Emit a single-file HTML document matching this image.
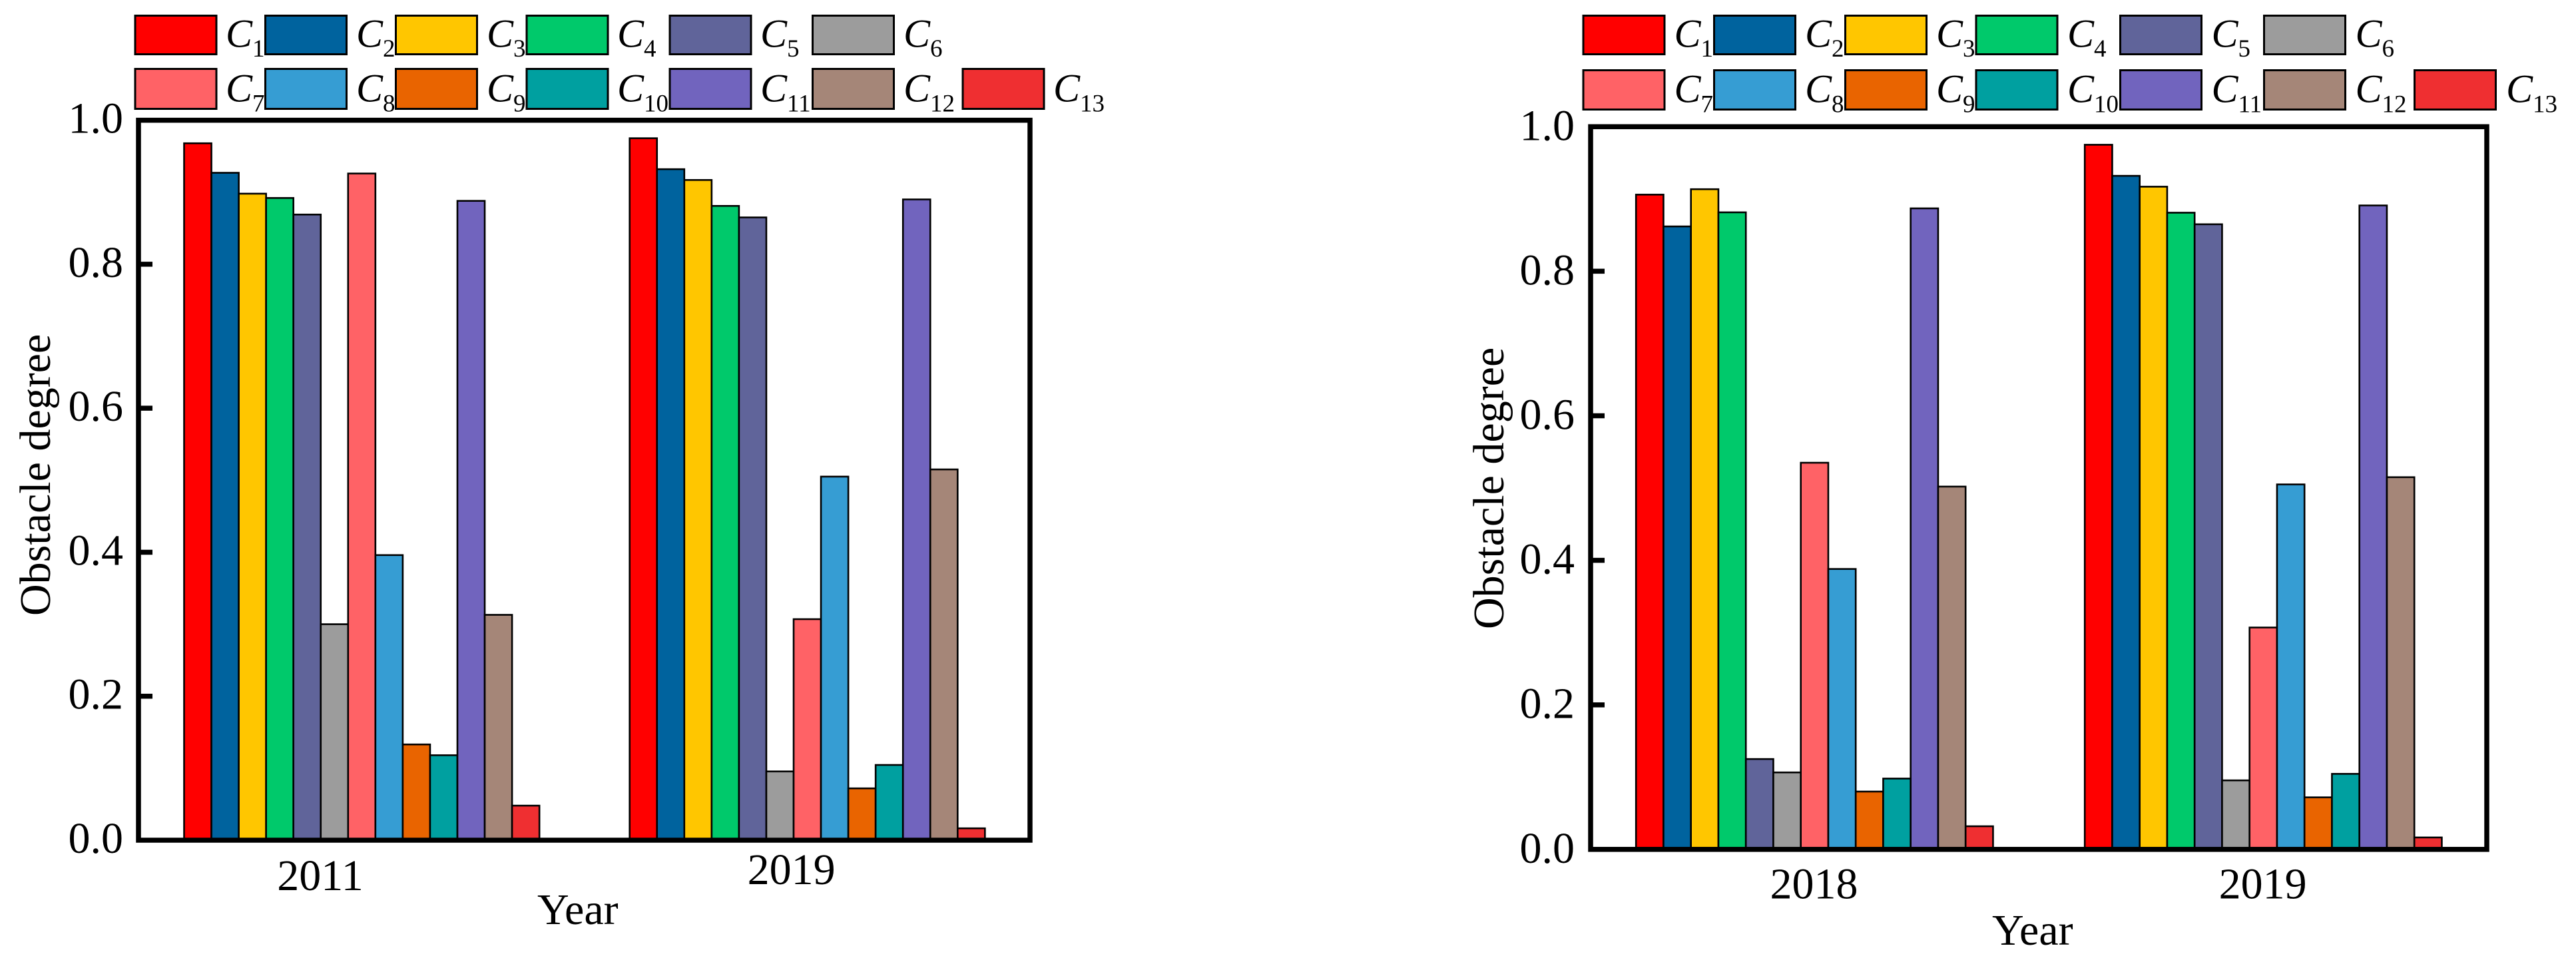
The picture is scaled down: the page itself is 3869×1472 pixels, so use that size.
<!DOCTYPE html>
<html lang="en">
<head>
<meta charset="utf-8">
<title>Obstacle degree by year</title>
<style>
html,body{margin:0;padding:0;background:#fff;}
svg{display:block;}
text{font-family:"Liberation Serif",serif;fill:#000;}
.sw{stroke:#000;stroke-width:3;}
.lc{font-size:60px;font-style:italic;}
.ls{font-size:37px;font-style:normal;}
.t{font-size:66px;}
</style>
</head>
<body>
<svg id="chart" xmlns="http://www.w3.org/2000/svg" width="3869" height="1472" viewBox="0 0 3869 1472">
<rect x="0" y="0" width="3869" height="1472" fill="#ffffff"/>

<g id="panel-left">
<g>
<g><rect class="sw" x="203" y="23.5" width="122" height="58" fill="#ff0000"/><text class="lc" x="339" y="70.5">C<tspan class="ls" dy="14.5">1</tspan></text></g>
<g><rect class="sw" x="398.5" y="23.5" width="122" height="58" fill="#00639e"/><text class="lc" x="535" y="70.5">C<tspan class="ls" dy="14.5">2</tspan></text></g>
<g><rect class="sw" x="594.5" y="23.5" width="122" height="58" fill="#ffc600"/><text class="lc" x="731" y="70.5">C<tspan class="ls" dy="14.5">3</tspan></text></g>
<g><rect class="sw" x="791" y="23.5" width="122" height="58" fill="#00c96b"/><text class="lc" x="927" y="70.5">C<tspan class="ls" dy="14.5">4</tspan></text></g>
<g><rect class="sw" x="1006" y="23.5" width="122" height="58" fill="#60649a"/><text class="lc" x="1142" y="70.5">C<tspan class="ls" dy="14.5">5</tspan></text></g>
<g><rect class="sw" x="1220.5" y="23.5" width="122" height="58" fill="#9c9c9c"/><text class="lc" x="1357" y="70.5">C<tspan class="ls" dy="14.5">6</tspan></text></g>
<g><rect class="sw" x="203" y="103.5" width="122" height="60" fill="#ff6266"/><text class="lc" x="339" y="152.5">C<tspan class="ls" dy="15">7</tspan></text></g>
<g><rect class="sw" x="398.5" y="103.5" width="122" height="60" fill="#369dd3"/><text class="lc" x="535" y="152.5">C<tspan class="ls" dy="15">8</tspan></text></g>
<g><rect class="sw" x="594.5" y="103.5" width="122" height="60" fill="#e96400"/><text class="lc" x="731" y="152.5">C<tspan class="ls" dy="15">9</tspan></text></g>
<g><rect class="sw" x="791" y="103.5" width="122" height="60" fill="#00a0a0"/><text class="lc" x="927" y="152.5">C<tspan class="ls" dy="15">10</tspan></text></g>
<g><rect class="sw" x="1006" y="103.5" width="122" height="60" fill="#7164be"/><text class="lc" x="1142" y="152.5">C<tspan class="ls" dy="15">11</tspan></text></g>
<g><rect class="sw" x="1220.5" y="103.5" width="122" height="60" fill="#a58678"/><text class="lc" x="1357" y="152.5">C<tspan class="ls" dy="15">12</tspan></text></g>
<g><rect class="sw" x="1446" y="103.5" width="122" height="60" fill="#ef2f31"/><text class="lc" x="1582" y="152.5">C<tspan class="ls" dy="15">13</tspan></text></g>
</g>
<text class="t" transform="translate(75,925) rotate(-90)">Obstacle degree</text>
<text class="t" x="807" y="1388">Year</text>
</g>

<g id="panel-right">
<g>
<g><rect class="sw" x="2378" y="23.5" width="122" height="58" fill="#ff0000"/><text class="lc" x="2514.5" y="70.5">C<tspan class="ls" dy="14.5">1</tspan></text></g>
<g><rect class="sw" x="2574.5" y="23.5" width="122" height="58" fill="#00639e"/><text class="lc" x="2711" y="70.5">C<tspan class="ls" dy="14.5">2</tspan></text></g>
<g><rect class="sw" x="2771.5" y="23.5" width="122" height="58" fill="#ffc600"/><text class="lc" x="2908" y="70.5">C<tspan class="ls" dy="14.5">3</tspan></text></g>
<g><rect class="sw" x="2968" y="23.5" width="122" height="58" fill="#00c96b"/><text class="lc" x="3105" y="70.5">C<tspan class="ls" dy="14.5">4</tspan></text></g>
<g><rect class="sw" x="3184.5" y="23.5" width="122" height="58" fill="#60649a"/><text class="lc" x="3321.5" y="70.5">C<tspan class="ls" dy="14.5">5</tspan></text></g>
<g><rect class="sw" x="3400.5" y="23.5" width="122" height="58" fill="#9c9c9c"/><text class="lc" x="3537.5" y="70.5">C<tspan class="ls" dy="14.5">6</tspan></text></g>
<g><rect class="sw" x="2378" y="105.5" width="122" height="59" fill="#ff6266"/><text class="lc" x="2514.5" y="153.5">C<tspan class="ls" dy="15">7</tspan></text></g>
<g><rect class="sw" x="2574.5" y="105.5" width="122" height="59" fill="#369dd3"/><text class="lc" x="2711" y="153.5">C<tspan class="ls" dy="15">8</tspan></text></g>
<g><rect class="sw" x="2771.5" y="105.5" width="122" height="59" fill="#e96400"/><text class="lc" x="2908" y="153.5">C<tspan class="ls" dy="15">9</tspan></text></g>
<g><rect class="sw" x="2968" y="105.5" width="122" height="59" fill="#00a0a0"/><text class="lc" x="3105" y="153.5">C<tspan class="ls" dy="15">10</tspan></text></g>
<g><rect class="sw" x="3184.5" y="105.5" width="122" height="59" fill="#7164be"/><text class="lc" x="3321.5" y="153.5">C<tspan class="ls" dy="15">11</tspan></text></g>
<g><rect class="sw" x="3400.5" y="105.5" width="122" height="59" fill="#a58678"/><text class="lc" x="3537.5" y="153.5">C<tspan class="ls" dy="15">12</tspan></text></g>
<g><rect class="sw" x="3626.5" y="105.5" width="122" height="59" fill="#ef2f31"/><text class="lc" x="3764" y="153.5">C<tspan class="ls" dy="15">13</tspan></text></g>
</g>
<text class="t" transform="translate(2258,945) rotate(-90)">Obstacle degree</text>
<text class="t" x="2992" y="1419">Year</text>
</g>
</svg>

<script>
const seriesNames = ['C1','C2','C3','C4','C5','C6','C7','C8','C9','C10','C11','C12','C13'];
const leftCategories = ['2011','2019'];
const rightCategories = ['2018','2019'];
const yTickValues = [0, 0.2, 0.4, 0.6, 0.8, 1.0];
const yTickLabels = ['0.0','0.2','0.4','0.6','0.8','1.0'];
const leftValues2011 = [0.968,0.927,0.898,0.892,0.869,0.300,0.926,0.396,0.133,0.118,0.888,0.313,0.048];
const leftValues2019 = [0.975,0.932,0.917,0.881,0.865,0.0955,0.307,0.505,0.072,0.1045,0.890,0.515,0.0165];
const rightValues2018 = [0.906,0.862,0.9135,0.8815,0.125,0.1065,0.535,0.388,0.080,0.098,0.887,0.502,0.032];
const rightValues2019 = [0.975,0.932,0.917,0.881,0.865,0.0955,0.307,0.505,0.072,0.1045,0.891,0.515,0.0165];
const barColors = ['#ff0000','#00639e','#ffc600','#00c96b','#60649a','#9c9c9c','#ff6266','#369dd3','#e96400','#00a0a0','#7164be','#a58678','#ef2f31'];

const SVG_NS = 'http://www.w3.org/2000/svg';

function makeEl(tag, parent) {
  const el = document.createElementNS(SVG_NS, tag);
  parent.appendChild(el);
  return el;
}

function drawPanel(parent, prefix, layout, categories, groups) {
  function yScale(v) {
    return layout.yZero - v * (layout.yZero - layout.yOne);
  }
  function xScale(groupIndex, seriesIndex) {
    return layout.xStart + groupIndex * layout.groupStep + seriesIndex * layout.barWidth;
  }

  const bars = makeEl('g', parent);
  
  
  groups.forEach(function (values, g) {
    values.forEach(function (v, s) {
      const bar = makeEl('rect', bars);
      
      
      bar.setAttribute('x', xScale(g, s));
      bar.setAttribute('y', yScale(v));
      bar.setAttribute('width', layout.barWidth);
      bar.setAttribute('height', yScale(0) - yScale(v));
      bar.setAttribute('fill', barColors[s]);
      bar.setAttribute('stroke', '#000');
      bar.setAttribute('stroke-width', '2.6');
    });
  });

  const frame = makeEl('rect', parent);
  
  
  frame.setAttribute('x', layout.xLeft);
  frame.setAttribute('y', layout.yOne);
  frame.setAttribute('width', layout.xRight - layout.xLeft);
  frame.setAttribute('height', layout.yZero - layout.yOne);
  frame.setAttribute('fill', 'none');
  frame.setAttribute('stroke', '#000');
  frame.setAttribute('stroke-width', '7.5');

  yTickValues.forEach(function (v, i) {
    if (v > 0 && v < 1) {
      const tick = makeEl('line', parent);
      
      
      tick.setAttribute('x1', layout.xLeft);
      tick.setAttribute('x2', layout.xLeft + layout.tickLength);
      tick.setAttribute('y1', yScale(v));
      tick.setAttribute('y2', yScale(v));
      tick.setAttribute('stroke', '#000');
      tick.setAttribute('stroke-width', '7.5');
    }
    const label = makeEl('text', parent);
    
    
    label.setAttribute('class', 't');
    label.setAttribute('text-anchor', 'end');
    label.setAttribute('x', layout.tickLabelRight);
    label.setAttribute('y', yScale(v) + layout.tickLabelDrop);
    label.textContent = yTickLabels[i];
  });

  categories.forEach(function (c, i) {
    const label = makeEl('text', parent);
    
    
    label.setAttribute('class', 't');
    label.setAttribute('text-anchor', 'middle');
    label.setAttribute('x', layout.catX[i]);
    label.setAttribute('y', layout.catY[i]);
    label.textContent = c;
  });
}

drawPanel(document.getElementById('panel-left'), 'left', {
  xLeft: 208, xRight: 1547, yZero: 1262, yOne: 180.6,
  xStart: 276.5, groupStep: 669.2, barWidth: 41.05,
  tickLength: 21, tickLabelRight: 185, tickLabelDrop: 19,
  catX: [481, 1188.6], catY: [1337, 1328]
}, leftCategories, [leftValues2011, leftValues2019]);

drawPanel(document.getElementById('panel-right'), 'right', {
  xLeft: 2389, xRight: 3735, yZero: 1275.8, yOne: 190.3,
  xStart: 2457.2, groupStep: 674, barWidth: 41.25,
  tickLength: 21, tickLabelRight: 2365, tickLabelDrop: 20,
  catX: [2724.5, 3398.6], catY: [1349.5, 1349.5]
}, rightCategories, [rightValues2018, rightValues2019]);
</script>
</body>
</html>
